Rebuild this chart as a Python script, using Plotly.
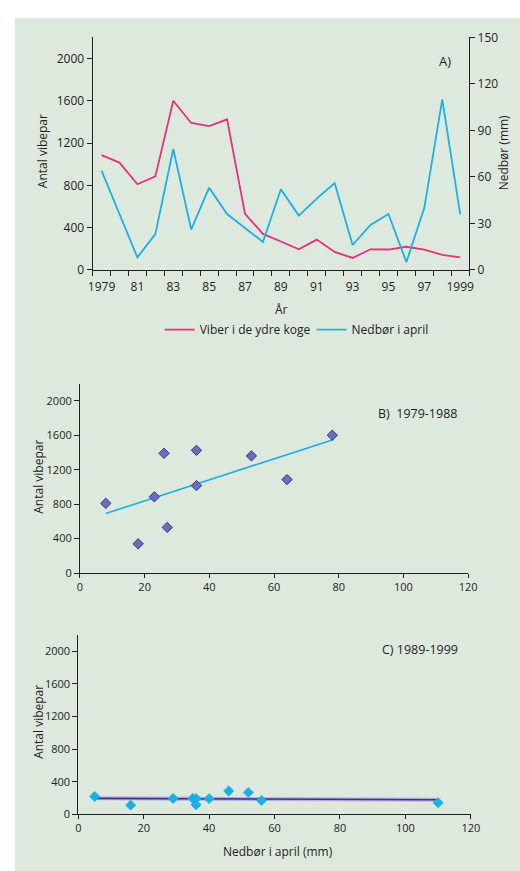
import numpy as np
import plotly.graph_objects as go

# Lapwing breeding pairs in the outer polders and April precipitation, 1979-1999
years = list(range(1979, 2000))
vibepar = [1085, 1015, 810, 885, 1600, 1390, 1360, 1425, 530, 340,
           268, 194, 286, 169, 112, 194, 192, 218, 192, 141, 117]
nedbor = [64, 36, 8, 23, 78, 26, 53, 36, 27, 18,
          52, 35, 46, 56, 16, 29, 36, 5, 40, 110, 36]

year_ticks = [1979, 1981, 1983, 1985, 1987, 1989, 1991, 1993, 1995, 1997, 1999]
year_labels = ["1979", "81", "83", "85", "87", "89", "91", "93", "95", "97", "1999"]
left_ticks = [0, 400, 800, 1200, 1600, 2000]
right_ticks = [0, 30, 60, 90, 120, 150]
scatter_xticks = [0, 20, 40, 60, 80, 100, 120]

split_year = 1988
early = [i for i, y in enumerate(years) if y <= split_year]
late = [i for i, y in enumerate(years) if y > split_year]

W, H = 520, 871
PINK = "#e5317e"
CYAN = "#1ab0e6"
GREEN_BG = "#dee9dd"
AXIS = "#231f20"
FONT = "Open Sans"


def px(x):
    return x / W


def py(y):
    return 1 - y / H


def linfit(xs, ys):
    k, m = np.polyfit(xs, ys, 1)
    xr = np.array([min(xs), max(xs)], dtype=float)
    return xr, k * xr + m


fig = go.Figure()

# Panel A: time series
fig.add_trace(go.Scatter(x=years, y=vibepar, mode="lines", name="Viber i de ydre koge",
                         line=dict(color=PINK, width=1.8), xaxis="x", yaxis="y",
                         legend="legend"))
fig.add_trace(go.Scatter(x=years, y=nedbor, mode="lines", name="Nedbør i april",
                         line=dict(color=CYAN, width=1.8), xaxis="x", yaxis="y2",
                         legend="legend2"))

# Panel B: 1979-1988
xb = [nedbor[i] for i in early]
yb = [vibepar[i] for i in early]
fxb, fyb = linfit(xb, yb)
fig.add_trace(go.Scatter(x=fxb, y=fyb, mode="lines", showlegend=False,
                         line=dict(color=CYAN, width=1.6), xaxis="x2", yaxis="y3"))
fig.add_trace(go.Scatter(x=xb, y=yb, mode="markers", showlegend=False,
                         marker=dict(symbol="diamond", size=8, color="#6b6bc0",
                                     line=dict(color="#3b3b8c", width=1)),
                         xaxis="x2", yaxis="y3"))

# Panel C: 1989-1999
xc = [nedbor[i] for i in late]
yc = [vibepar[i] for i in late]
fxc, fyc = linfit(xc, yc)
fig.add_trace(go.Scatter(x=fxc, y=fyc, mode="lines", showlegend=False,
                         line=dict(color="#b8b0da", width=4), xaxis="x3", yaxis="y4"))
fig.add_trace(go.Scatter(x=fxc, y=fyc, mode="lines", showlegend=False,
                         line=dict(color="#3f2f8e", width=1.6), xaxis="x3", yaxis="y4"))
fig.add_trace(go.Scatter(x=xc, y=yc, mode="markers", showlegend=False,
                         marker=dict(symbol="diamond", size=8, color="#1ab0e6",
                                     line=dict(color="#1ab0e6", width=0.5)),
                         xaxis="x3", yaxis="y4"))

common_y = dict(range=[0, 2200], tickvals=left_ticks, ticks="outside", ticklen=5,
                tickcolor=AXIS, showline=True, linecolor=AXIS, linewidth=1,
                showgrid=False, zeroline=False)
common_x = dict(range=[0, 120], tickvals=scatter_xticks, ticks="outside", ticklen=4,
                tickcolor=AXIS, showline=True, linecolor=AXIS, linewidth=1,
                showgrid=False, zeroline=False, tickfont=dict(size=11, color=AXIS))
legend_style = dict(orientation="h", xanchor="left", yanchor="middle",
                    bgcolor="rgba(0,0,0,0)", font=dict(size=12), itemwidth=30)

fig.update_layout(
    width=W, height=H,
    margin=dict(l=0, r=0, t=0, b=0),
    paper_bgcolor="white",
    plot_bgcolor="white",
    font=dict(family=FONT, color=AXIS, size=12),
    xaxis=dict(domain=[px(90), px(477)], anchor="y",
               range=[years[0] - 0.5, years[-1] + 0.5],
               tickvals=year_ticks, ticktext=year_labels, ticks="",
               ticklabelstandoff=6,
               minor=dict(tickvals=[y - 0.5 for y in years] + [years[-1] + 0.5],
                          ticks="outside", ticklen=5, tickcolor=AXIS, showgrid=False),
               showline=True, linecolor=AXIS, linewidth=1, showgrid=False,
               zeroline=False, tickfont=dict(size=12)),
    yaxis=dict(domain=[py(266), py(29)], anchor="x", **common_y,
               tickfont=dict(size=12)),
    yaxis2=dict(range=[0, 150], tickvals=right_ticks, overlaying="y", side="right",
                anchor="x", ticks="outside", ticklen=5, tickcolor=AXIS,
                showline=True, linecolor=AXIS, linewidth=1, showgrid=False,
                zeroline=False, tickfont=dict(size=12)),
    xaxis2=dict(domain=[px(77), px(476)], anchor="y3", **common_x),
    yaxis3=dict(domain=[py(575.3), py(382)], anchor="x2", **common_y,
                tickfont=dict(size=11)),
    xaxis3=dict(domain=[px(75.3), px(478.7)], anchor="y4", **common_x),
    yaxis4=dict(domain=[py(821.3), py(638.3)], anchor="x3", **common_y,
                tickfont=dict(size=11)),
    legend=dict(x=px(159), y=py(327), **legend_style),
    legend2=dict(x=px(315), y=py(327), **legend_style),
)

# green backdrop behind the whole figure
fig.add_shape(type="rect", xref="paper", yref="paper",
              x0=px(10), x1=1.02, y0=-0.02, y1=py(9),
              fillcolor=GREEN_BG, line=dict(width=0), layer="below")

labels = [
    ("Antal vibepar", 38, 145, -90, 12),
    ("Nedbør (mm)", 512, 147, -90, 12),
    ("År", 284, 306, 0, 12),
    ("Antal vibepar", 35, 477, -90, 12),
    ("Antal vibepar", 35, 727, -90, 12),
    ("Nedbør i april (mm)", 281, 859, 0, 12),
    ("A)", 452, 53, 0, 13),
    ("B)&nbsp;&nbsp;1979-1988", 424, 413, 0, 12.5),
    ("C) 1989-1999", 426, 653, 0, 12.5),
]
for text, x, y, ang, size in labels:
    fig.add_annotation(text=text, x=px(x), y=py(y), xref="paper", yref="paper",
                       showarrow=False, textangle=ang, xanchor="center", yanchor="middle",
                       font=dict(size=size, color=AXIS, family=FONT))

fig.write_html("out.html")
